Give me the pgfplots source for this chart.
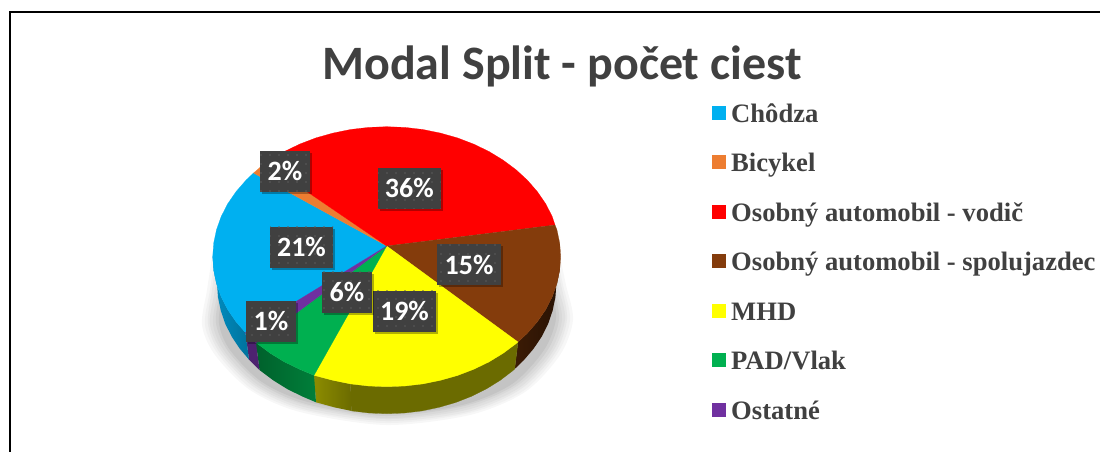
\documentclass[border=0pt]{standalone}
\usepackage{fontspec}
\setmainfont{Liberation Serif}
\newfontfamily\carlito{Carlito}
\usepackage{pgfplots}
\pgfplotsset{compat=1.18}
\usetikzlibrary{shadows,patterns.meta}
\definecolor{cblue}{HTML}{00B0F0}
\definecolor{corange}{HTML}{ED7D31}
\definecolor{cred}{HTML}{FF0000}
\definecolor{cbrown}{HTML}{843C0C}
\definecolor{cyellow}{HTML}{FFFF00}
\definecolor{cgreen}{HTML}{00B050}
\definecolor{cpurple}{HTML}{7030A0}
\definecolor{ctext}{HTML}{404040}
\tikzset{
  lab/.style={fill=ctext,text=white,inner sep=0pt,anchor=center,
    minimum height=41pt,font=\carlito\bfseries\fontsize{28}{28}\selectfont,
    drop shadow={shadow xshift=2pt,shadow yshift=-2pt,fill=black,opacity=0.3},
    postaction={pattern={Dots[distance=9pt,radius=0.8pt]},pattern color=white!14!ctext}},
  leg/.style={anchor=base west,inner sep=0pt,text=ctext,font=\bfseries\fontsize{26.6}{26.6}\selectfont},
}
\begin{document}
\begin{tikzpicture}
\path[use as bounding box] (0,0) rectangle (1100pt,452pt);
\begin{axis}[at={(0,0)},anchor=south west,scale only axis,width=1100pt,height=452pt,
  xmin=0,xmax=1100,ymin=0,ymax=452,y dir=reverse,hide axis]
% frame
\addplot[black,line width=2pt] coordinates {(10,452)(10,12)(1100,12)};
% soft shadow below the pie
\addplot[smooth,fill=black!3,draw=none] coordinates {(212,257)(207,290)(202,325)(215,355)(250,390)(300,412)(386,425)(470,415)(525,392)(560,355)(573,320)(566,285)(560,257)} --cycle;
\addplot[smooth,fill=black!6,draw=none] coordinates {(215,258)(210,290)(205,325)(218,354)(252,389)(301,410)(386,423)(469,413)(523,391)(557,354)(570,320)(563,285)(557,258)} --cycle;
\addplot[smooth,fill=black!9,draw=none] coordinates {(217,258)(212,290)(208,324)(220,353)(254,387)(303,409)(386,421)(467,412)(521,389)(555,353)(567,319)(561,285)(555,258)} --cycle;
\addplot[smooth,fill=black!12,draw=none] coordinates {(220,259)(215,290)(210,324)(223,353)(256,386)(304,407)(386,419)(466,410)(519,388)(552,353)(565,319)(558,286)(552,259)} --cycle;
\addplot[smooth,fill=black!15,draw=none] coordinates {(222,260)(218,291)(213,324)(225,352)(258,385)(305,405)(386,418)(465,408)(517,386)(550,352)(562,319)(555,286)(550,260)} --cycle;
\addplot[smooth,fill=black!19,draw=none] coordinates {(225,260)(220,291)(216,323)(228,351)(260,383)(306,404)(386,416)(464,406)(515,385)(547,351)(559,319)(553,286)(547,260)} --cycle;
\addplot[smooth,fill=black!23,draw=none] coordinates {(228,261)(223,291)(219,323)(230,350)(262,382)(308,402)(386,414)(462,405)(512,384)(544,350)(556,318)(550,286)(544,261)} --cycle;
% sides
\addplot[draw=none,left color=cbrown!45!black,right color=cbrown!30!black] coordinates {(560.7,256.7)(559.7,270.3)(556.9,283.7)(552.2,296.9)(545.7,309.6)(537.4,321.7)(527.5,333.1)(518,342)(514.7,369)(523.9,360.1)(533.6,348.7)(541.7,336.6)(548.1,323.9)(552.6,310.7)(555.4,297.3)(556.4,283.7)} --cycle;
\addplot[fill=cyellow!42!black,draw=cyellow!42!black,line width=0.2pt] coordinates {(518,342)(516,343.7)(503.1,353.3)(489,361.9)(473.7,369.3)(457.5,375.5)(440.5,380.3)(422.9,383.9)(404.9,386)(386.7,386.7)(368.5,386)(350.5,383.9)(351.4,410.9)(369,413)(386.7,413.7)(404.4,413)(422,410.9)(439.1,407.3)(455.7,402.5)(471.5,396.3)(486.4,388.9)(500.2,380.3)(512.8,370.7)(514.7,369)} --cycle;
\addplot[draw=none,left color=cyellow!55!black,right color=cyellow!42!black] coordinates {(350.5,383.9)(332.9,380.3)(314,375.3)(316,402.3)(334.3,407.3)(351.4,410.9)} --cycle;
\addplot[draw=none,left color=cgreen!55!black,right color=cgreen!72!black] coordinates {(314,375.3)(299.7,369.3)(284.4,361.9)(270.3,353.3)(257.4,343.7)(256,343)(259.5,370)(273.2,380.3)(287,388.9)(301.9,396.3)(316,402.3)} --cycle;
\addplot[fill=cpurple!70!black,draw=none] coordinates {(256,343)(245.4,332.5)(249,359.6)(259.5,370)} --cycle;
\addplot[draw=none,left color=cblue!80!black,right color=cblue!65!black] coordinates {(245.4,332.5)(236,321.7)(227.7,309.6)(221.2,296.9)(216.5,283.7)(213.7,270.3)(212.7,256.7)(217,283.7)(218,297.3)(220.8,310.7)(225.3,323.9)(231.7,336.6)(239.8,348.7)(249,359.6)} --cycle;
% top face
\addplot[fill=cblue,draw=cblue,line width=0.2pt] coordinates {(386.7,246)(245.4,332.5)(236,321.7)(227.7,309.6)(221.2,296.9)(216.5,283.7)(213.7,270.3)(212.7,256.7)(213.7,243.1)(216.5,229.7)(221.2,216.5)(227.7,203.8)(236,191.7)(245.9,180.3)(253.5,173)} --cycle;
\addplot[fill=corange,draw=corange,line width=0.2pt] coordinates {(386.7,246)(253.5,173)(257.4,169.7)(265,163)} --cycle;
\addplot[fill=cred,draw=cred,line width=0.2pt] coordinates {(386.7,246)(265,163)(270.3,160.1)(284.4,151.5)(299.7,144.1)(315.9,137.9)(332.9,133.1)(350.5,129.5)(368.5,127.4)(386.7,126.7)(404.9,127.4)(422.9,129.5)(440.5,133.1)(457.5,137.9)(473.7,144.1)(489,151.5)(503.1,160.1)(516,169.7)(527.5,180.3)(537.4,191.7)(545.7,203.8)(552.2,216.5)(555,225)} --cycle;
\addplot[fill=cbrown,draw=cbrown,line width=0.2pt] coordinates {(386.7,246)(555,225)(556.9,229.7)(559.7,243.1)(560.7,256.7)(559.7,270.3)(556.9,283.7)(552.2,296.9)(545.7,309.6)(537.4,321.7)(527.5,333.1)(518,342)} --cycle;
\addplot[fill=cyellow,draw=cyellow,line width=0.2pt] coordinates {(386.7,246)(518,342)(516,343.7)(503.1,353.3)(489,361.9)(473.7,369.3)(457.5,375.5)(440.5,380.3)(422.9,383.9)(404.9,386)(386.7,386.7)(368.5,386)(350.5,383.9)(332.9,380.3)(314,375.3)} --cycle;
\addplot[fill=cgreen,draw=cgreen,line width=0.2pt] coordinates {(386.7,246)(314,375.3)(299.7,369.3)(284.4,361.9)(270.3,353.3)(257.4,343.7)(256,343)} --cycle;
\addplot[fill=cpurple,draw=cpurple,line width=0.2pt] coordinates {(386.7,246)(256,343)(245.4,332.5)} --cycle;
% legend keys
\addplot[fill=cblue,draw=none] coordinates {(712,106)(726,106)(726,120)(712,120)} --cycle;
\addplot[fill=corange,draw=none] coordinates {(712,155)(726,155)(726,169)(712,169)} --cycle;
\addplot[fill=cred,draw=none] coordinates {(712,205)(726,205)(726,219)(712,219)} --cycle;
\addplot[fill=cbrown,draw=none] coordinates {(712,254)(726,254)(726,268)(712,268)} --cycle;
\addplot[fill=cyellow,draw=none] coordinates {(712,304)(726,304)(726,318)(712,318)} --cycle;
\addplot[fill=cgreen,draw=none] coordinates {(712,353)(726,353)(726,367)(712,367)} --cycle;
\addplot[fill=cpurple,draw=none] coordinates {(712,403)(726,403)(726,417)(712,417)} --cycle;
% legend text
\node[leg] at (axis cs:731,122.3) {Chôdza};
\node[leg] at (axis cs:731,171.3) {Bicykel};
\node[leg] at (axis cs:731,221.3) {Osobný automobil - vodič};
\node[leg] at (axis cs:731,270.3) {Osobný automobil - spolujazdec};
\node[leg] at (axis cs:731,320.3) {MHD};
\node[leg] at (axis cs:731,369.3) {PAD/Vlak};
\node[leg] at (axis cs:731,419.3) {Ostatné};
% title
\node[anchor=center,inner sep=0pt,text=ctext,font=\carlito\bfseries\fontsize{48}{48}\selectfont] at (axis cs:562,66) {Modal Split - počet ciest};
% data labels
\node[lab,minimum width=63pt] at (axis cs:409.3,188) {36\%};
\node[lab,minimum width=50pt] at (axis cs:285,171.3) {2\%};
\node[lab,minimum width=63pt] at (axis cs:301.5,247.3) {21\%};
\node[lab,minimum width=64pt] at (axis cs:469,264.5) {15\%};
\node[lab,minimum width=63pt] at (axis cs:404.5,311.3) {19\%};
\node[lab,minimum width=50pt] at (axis cs:347,292.3) {6\%};
\node[lab,minimum width=50pt] at (axis cs:271,321.3) {1\%};
\end{axis}
\end{tikzpicture}
\end{document}
